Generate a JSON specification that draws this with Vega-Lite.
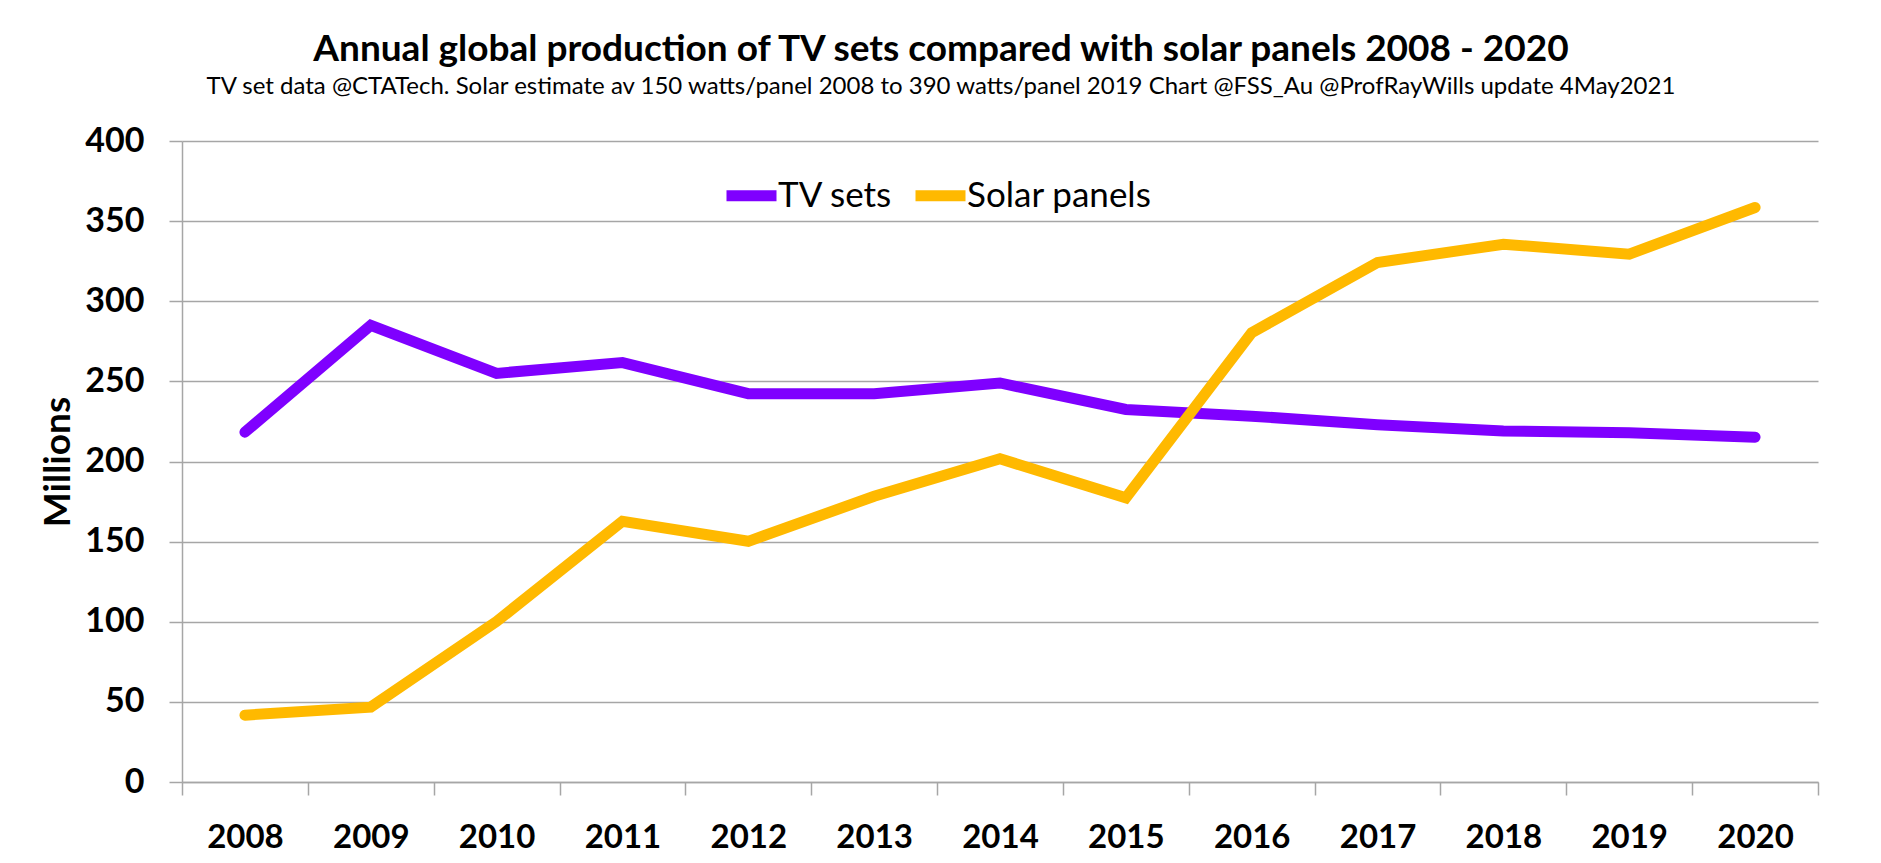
{
  "$schema": "https://vega.github.io/schema/vega-lite/v6.json",
  "autosize": "none",
  "width": 1636,
  "height": 641,
  "padding": {"left": 182, "top": 141, "right": 63, "bottom": 81},
  "background": "white",
  "title": {
    "text": "Annual global production of TV sets compared with solar panels 2008 - 2020",
    "subtitle": "TV set data @CTATech. Solar estimate av 150 watts/panel 2008 to 390 watts/panel 2019 Chart @FSS_Au @ProfRayWills update 4May2021",
    "anchor": "middle",
    "frame": "group",
    "dx": -59,
    "offset": 24,
    "font": "Lato",
    "fontSize": 37,
    "fontWeight": "bold",
    "color": "black",
    "subtitleFont": "Lato",
    "subtitleFontSize": 24,
    "subtitleColor": "black",
    "subtitlePadding": 6
  },
  "data": {
    "values": [
      {"year": "2008", "series": "TV sets", "value": 218.3},
      {"year": "2009", "series": "TV sets", "value": 285},
      {"year": "2010", "series": "TV sets", "value": 255},
      {"year": "2011", "series": "TV sets", "value": 261.7},
      {"year": "2012", "series": "TV sets", "value": 242.3},
      {"year": "2013", "series": "TV sets", "value": 242.3},
      {"year": "2014", "series": "TV sets", "value": 249},
      {"year": "2015", "series": "TV sets", "value": 232.5},
      {"year": "2016", "series": "TV sets", "value": 228.3},
      {"year": "2017", "series": "TV sets", "value": 223},
      {"year": "2018", "series": "TV sets", "value": 219},
      {"year": "2019", "series": "TV sets", "value": 218},
      {"year": "2020", "series": "TV sets", "value": 215.2},
      {"year": "2008", "series": "Solar panels", "value": 41.7},
      {"year": "2009", "series": "Solar panels", "value": 46.7},
      {"year": "2010", "series": "Solar panels", "value": 100.2},
      {"year": "2011", "series": "Solar panels", "value": 162.7},
      {"year": "2012", "series": "Solar panels", "value": 150.2},
      {"year": "2013", "series": "Solar panels", "value": 178.3},
      {"year": "2014", "series": "Solar panels", "value": 201.7},
      {"year": "2015", "series": "Solar panels", "value": 177.3},
      {"year": "2016", "series": "Solar panels", "value": 280.4},
      {"year": "2017", "series": "Solar panels", "value": 324.2},
      {"year": "2018", "series": "Solar panels", "value": 335.6},
      {"year": "2019", "series": "Solar panels", "value": 329.4},
      {"year": "2020", "series": "Solar panels", "value": 358.5}
    ]
  },
  "mark": {"type": "line", "strokeWidth": 11, "strokeCap": "round", "strokeJoin": "miter"},
  "encoding": {
    "x": {
      "field": "year",
      "type": "ordinal",
      "scale": {"type": "band", "paddingInner": 0, "paddingOuter": 0},
      "axis": {
        "title": null,
        "labelAngle": 0,
        "tickBand": "extent",
        "grid": false,
        "tickSize": 13,
        "tickColor": "#a6a6a6",
        "tickWidth": 1.5,
        "domainColor": "#a6a6a6",
        "domainWidth": 1.5,
        "labelFont": "Lato",
        "labelFontSize": 33,
        "labelFontWeight": "bold",
        "labelColor": "black",
        "labelPadding": 26
      }
    },
    "y": {
      "field": "value",
      "type": "quantitative",
      "scale": {"domain": [0, 400], "nice": false},
      "axis": {
        "title": "Millions",
        "titleFont": "Lato",
        "titleFontSize": 37,
        "titleFontWeight": "bold",
        "titleColor": "black",
        "titlePadding": 7,
        "values": [0, 50, 100, 150, 200, 250, 300, 350, 400],
        "grid": true,
        "gridColor": "#a6a6a6",
        "gridWidth": 1.5,
        "tickSize": 13,
        "tickColor": "#a6a6a6",
        "tickWidth": 1.5,
        "domainColor": "#a6a6a6",
        "domainWidth": 1.5,
        "labelFont": "Lato",
        "labelFontSize": 34,
        "labelFontWeight": "bold",
        "labelColor": "black",
        "labelPadding": 25
      }
    },
    "color": {
      "field": "series",
      "type": "nominal",
      "scale": {"domain": ["TV sets", "Solar panels"], "range": ["#7f00ff", "#ffb900"]},
      "legend": {
        "title": null,
        "orient": "none",
        "direction": "horizontal",
        "legendX": 539,
        "legendY": 24,
        "symbolType": "stroke",
        "symbolStrokeWidth": 11,
        "symbolSize": 2500,
        "labelFont": "Lato",
        "labelFontSize": 35,
        "labelColor": "black",
        "labelOffset": -4,
        "labelLimit": 400,
        "columnPadding": 0
      }
    }
  },
  "config": {"view": {"stroke": null}}
}
